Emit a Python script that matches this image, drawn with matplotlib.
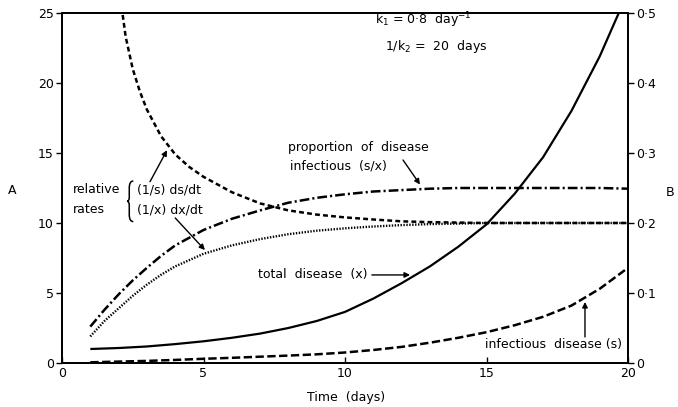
import matplotlib
matplotlib.use("Agg")
import matplotlib.pyplot as plt
from matplotlib.path import Path
from matplotlib.patches import PathPatch

plt.rcParams['font.family'] = ['DejaVu Sans']
plt.rcParams['lines.scale_dashes'] = False

# ---- data (left axis "A" units) ----
t_x = [1, 2, 3, 4, 5, 6, 7, 8, 9, 10, 11, 12, 13, 14, 15, 16, 17, 18, 19, 20]
total_x = [1.0, 1.07, 1.18, 1.35, 1.55, 1.8, 2.1, 2.5, 3.0, 3.65, 4.6, 5.7,
           6.9, 8.3, 9.9, 12.1, 14.7, 18.0, 21.9, 26.5]

t_s = [1, 2, 3, 4, 5, 6, 7, 8, 9, 10, 11, 12, 13, 14, 15, 16, 17, 18, 19, 20]
infect_s = [0.05, 0.1, 0.15, 0.22, 0.3, 0.37, 0.45, 0.53, 0.62, 0.75, 0.93,
            1.15, 1.45, 1.8, 2.2, 2.7, 3.3, 4.1, 5.3, 6.8]

t_p = [1, 1.5, 2, 2.5, 3, 3.5, 4, 5, 6, 7, 8, 9, 10, 11, 12, 13, 14, 15,
       16, 17, 18, 19, 20]
prop_sx = [2.6, 3.8, 4.9, 5.9, 6.8, 7.65, 8.4, 9.5, 10.3, 10.9, 11.45, 11.8,
           12.05, 12.25, 12.35, 12.45, 12.5, 12.5, 12.5, 12.5, 12.5, 12.5, 12.45]

t_rx = [1, 1.5, 2, 2.5, 3, 3.5, 4, 5, 6, 7, 8, 9, 10, 11, 12, 13, 14, 15,
        16, 17, 18, 19, 20]
rel_x = [1.9, 3.0, 3.9, 4.8, 5.6, 6.3, 6.9, 7.8, 8.4, 8.85, 9.2, 9.45, 9.62,
         9.75, 9.85, 9.92, 9.96, 10.0, 10.0, 10.0, 10.0, 10.0, 10.0]

t_rs = [2.0, 2.25, 2.5, 2.75, 3.0, 3.5, 4, 4.5, 5, 6, 7, 8, 9, 10, 11, 12,
        13, 14, 15, 16, 17, 18, 19, 20]
rel_s = [27.0, 23.3, 21.0, 19.4, 18.1, 16.2, 14.9, 14.0, 13.3, 12.2, 11.4,
         10.9, 10.6, 10.4, 10.25, 10.12, 10.06, 10.03, 10.0, 10.0, 10.0,
         10.0, 10.0, 10.0]

x_ticks = [0, 5, 10, 15, 20]
a_ticks = [0, 5, 10, 15, 20, 25]
b_ticks = [0, 0.1, 0.2, 0.3, 0.4, 0.5]
b_labels = ['0', '0·1', '0·2', '0·3', '0·4', '0·5']

fig = plt.figure(figsize=(6.78, 4.07), dpi=100)
ax = fig.add_axes([62/678, 1-363/407, (628-62)/678, (363-13)/407])
ax.set_xlim(0, 20)
ax.set_ylim(0, 25)

ax.plot(t_x, total_x, color='black', lw=1.6, solid_capstyle='butt')
ax.plot(t_s, infect_s, color='black', lw=1.8, dashes=(6, 2.5))
ax.plot(t_p, prop_sx, color='black', lw=1.8, dashes=(7, 2.2, 1.5, 2.2))
ax.plot(t_rx, rel_x, color='black', lw=1.7, dashes=(1.0, 1.1))
ax.plot(t_rs, rel_s, color='black', lw=1.8, dashes=(3.5, 2.3))

fs = 9
ax.set_xticks(x_ticks)
ax.set_yticks(a_ticks)
ax.tick_params(axis='x', direction='in', length=4, width=1, labelsize=fs, pad=3)
ax.tick_params(axis='y', direction='out', length=4, width=1, labelsize=fs, pad=2)
for sp in ax.spines.values():
    sp.set_linewidth(1.3)

ax2 = ax.twinx()
ax2.set_ylim(0, 0.5)
ax2.set_yticks(b_ticks)
ax2.set_yticklabels(b_labels)
ax2.tick_params(axis='y', direction='out', length=4, width=1, labelsize=fs, pad=2)
for sp in ax2.spines.values():
    sp.set_linewidth(1.3)

fig.text(346/678, 1-397/407, 'Time  (days)', fontsize=fs, ha='center', va='center')
fig.text(12/678, 1-190/407, 'A', fontsize=fs, ha='center', va='center')
fig.text(670/678, 1-192/407, 'B', fontsize=fs, ha='center', va='center')

ax.text(11.06, 24.5, r'k$_1$ = 0·8  day$^{-1}$', fontsize=fs, ha='left', va='center')
ax.text(11.4, 22.6, r'1/k$_2$ =  20  days', fontsize=fs, ha='left', va='center')

ax.text(8.0, 15.4, 'proportion  of  disease', fontsize=fs, ha='left', va='center')
ax.text(8.05, 14.1, 'infectious  (s/x)', fontsize=fs, ha='left', va='center')

ax.text(0.39, 12.36, 'relative', fontsize=fs, ha='left', va='center')
ax.text(0.39, 10.93, 'rates', fontsize=fs, ha='left', va='center')
ax.text(2.65, 12.36, '(1/s) ds/dt', fontsize=fs, ha='left', va='center')
ax.text(2.65, 10.93, '(1/x) dx/dt', fontsize=fs, ha='left', va='center')

# curly brace grouping the two relative-rate labels
bx0, bw, byt, byb = 2.30, 0.22, 13.0, 10.1
bym = (byt + byb) / 2
verts = [(bx0 + bw, byt), (bx0 + bw*0.35, byt), (bx0 + bw*0.35, byt - 0.5),
         (bx0 + bw*0.35, bym + 0.3), (bx0 + bw*0.35, bym), (bx0, bym),
         (bx0 + bw*0.35, bym), (bx0 + bw*0.35, bym - 0.3),
         (bx0 + bw*0.35, byb + 0.5), (bx0 + bw*0.35, byb), (bx0 + bw, byb)]
codes = [Path.MOVETO, Path.CURVE3, Path.CURVE3, Path.LINETO, Path.CURVE3,
         Path.CURVE3, Path.CURVE3, Path.CURVE3, Path.LINETO, Path.CURVE3,
         Path.CURVE3]
ax.add_patch(PathPatch(Path(verts, codes), fill=False, lw=1.1, color='black'))

ax.text(6.93, 6.29, 'total  disease  (x)', fontsize=fs, ha='left', va='center')
ax.text(14.95, 1.29, 'infectious  disease (s)', fontsize=fs, ha='left', va='center')

ap = dict(arrowstyle='-|>', lw=1.0, color='black', mutation_scale=8,
          shrinkA=0, shrinkB=0)
ax.annotate('', xy=(3.71, 15.2), xytext=(3.11, 12.95), arrowprops=ap)
ax.annotate('', xy=(5.05, 8.07), xytext=(4.0, 10.36), arrowprops=ap)
ax.annotate('', xy=(12.65, 12.75), xytext=(12.05, 14.5), arrowprops=ap)
ax.annotate('', xy=(12.3, 6.29), xytext=(10.95, 6.29), arrowprops=ap)
ax.annotate('', xy=(18.48, 4.36), xytext=(18.48, 1.86), arrowprops=ap)

fig.savefig('out.png', dpi=100)
